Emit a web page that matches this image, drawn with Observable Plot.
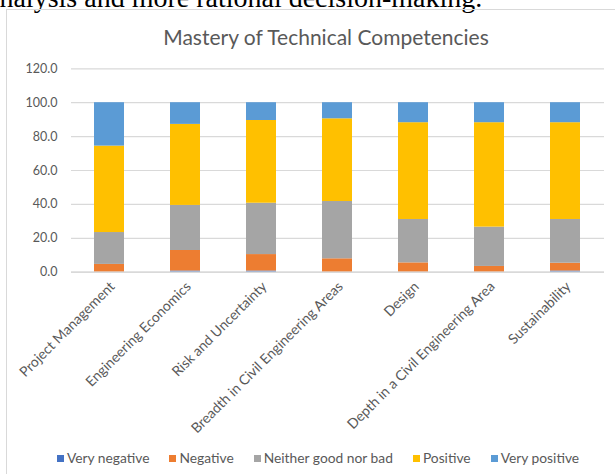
<!DOCTYPE html>
<html><head><meta charset="utf-8">
<script src="https://cdn.jsdelivr.net/npm/d3@7"></script>
<script src="https://cdn.jsdelivr.net/npm/@observablehq/plot@0.6"></script>
<style>
body{margin:0;background:#fff;}
#page{position:relative;width:615px;height:474px;overflow:hidden;background:#fff;}
#prose{position:absolute;left:-13px;top:-16px;font-family:"Liberation Serif","Times New Roman",serif;font-size:28px;line-height:28px;color:#000;white-space:nowrap;}
#box{position:absolute;left:6px;top:9px;width:640px;height:500px;border:1px solid #D9D9D9;box-sizing:border-box;}
#title{position:absolute;left:6px;width:640px;top:25px;text-align:center;font-family:Lato,sans-serif;font-size:21px;line-height:23px;color:#595959;white-space:nowrap;}
#chart{position:absolute;left:0;top:56px;}
#legend{position:absolute;left:7px;width:622px;top:450px;display:flex;justify-content:center;align-items:center;font-family:Lato,sans-serif;font-size:13.8px;line-height:16px;color:#595959;white-space:nowrap;}
.item{display:flex;align-items:center;margin:0 10px;}
.sw{width:7px;height:7px;margin-right:3px;}
</style>
</head><body>
<div id="page">
  <div id="prose">analysis and more rational decision-making.</div>
  <div id="box"></div>
  <div id="title">Mastery of Technical Competencies</div>
  <div id="chart"></div>
  <div id="legend"></div>
</div>
<script>
const categories = ["Project Management","Engineering Economics","Risk and Uncertainty","Breadth in Civil Engineering Areas","Design","Depth in a Civil Engineering Area","Sustainability"];
const seriesNames = ["Very negative","Negative","Neither good nor bad","Positive","Very positive"];
const seriesColors = ["#4472C4","#ED7D31","#A5A5A5","#FFC000","#5B9BD5"];
const veryNegative = [0, 0.7, 0.7, 0, 0, 0, 0.7];
const negative = [4.6, 12.1, 9.7, 7.9, 5.5, 3.4, 4.6];
const neither = [18.8, 26.6, 30.3, 33.8, 25.6, 23.2, 25.8];
const positive = [51.0, 47.8, 48.8, 48.8, 57.1, 61.6, 57.1];
const veryPositive = [25.6, 12.8, 10.5, 9.5, 11.8, 11.8, 11.8];
const yTicks = [0, 20, 40, 60, 80, 100, 120];

const seriesValues = [veryNegative, negative, neither, positive, veryPositive];
const data = [];
categories.forEach((c, i) => {
  seriesNames.forEach((s, j) => data.push({category: c, series: s, value: seriesValues[j][i]}));
});

const chart = Plot.plot({
  width: 615,
  height: 390,
  marginLeft: 71,
  marginRight: 11,
  marginTop: 12.3,
  marginBottom: 174.3,
  style: {fontFamily: "Lato, sans-serif", color: "#595959", background: "transparent"},
  x: {domain: categories, paddingInner: 0.6, paddingOuter: 0.3, label: null},
  y: {domain: [0, 120], label: null},
  color: {domain: seriesNames, range: seriesColors},
  marks: [
    Plot.gridY(yTicks, {stroke: "#D9D9D9", strokeOpacity: 1, strokeWidth: 1.2}),
    Plot.barY(data, {x: "category", y: "value", fill: "series", order: seriesNames}),
    Plot.ruleY([0], {stroke: "#D9D9D9", strokeWidth: 1.5}),
    Plot.axisY({ticks: yTicks, tickFormat: d3.format(".1f"), tickSize: 0, tickPadding: 14, fontSize: 12.5, fill: "#595959"}),
    Plot.axisX({tickRotate: -45, tickSize: 0, tickPadding: 12, dx: 3, fontSize: 14, fill: "#595959"})
  ]
});
document.getElementById("chart").appendChild(chart);

const legend = document.getElementById("legend");
seriesNames.forEach((s, j) => {
  const it = document.createElement("div");
  it.className = "item";
  const sw = document.createElement("span");
  sw.className = "sw";
  sw.style.background = seriesColors[j];
  const tx = document.createElement("span");
  tx.textContent = s;
  it.appendChild(sw); it.appendChild(tx);
  legend.appendChild(it);
});
</script>
</body></html>
